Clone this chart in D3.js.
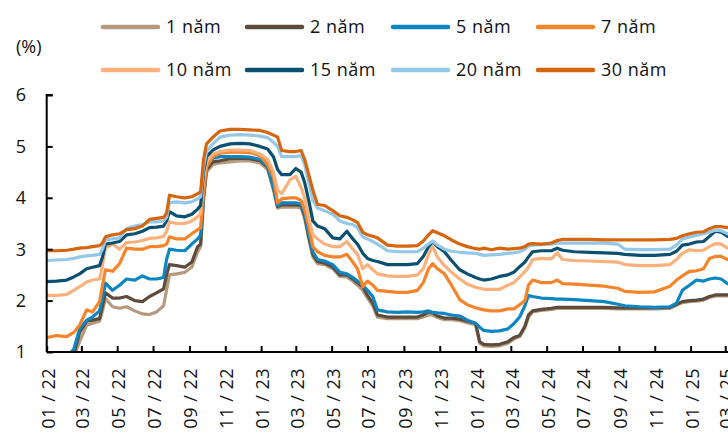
<!DOCTYPE html>
<html>
<head>
<meta charset="utf-8">
<script src="https://cdn.jsdelivr.net/npm/d3@7"></script>
<style>
  html, body { margin: 0; padding: 0; background: #fff; }
  svg { display: block; font-family: "Open Sans", "Noto Sans", sans-serif; }
</style>
</head>
<body>
<svg id="chart" width="728" height="432"></svg>
<script>
// Observation dates (yyyy-mm-dd)
const dates = [
  "2022-01-01","2022-01-18","2022-02-04","2022-02-16","2022-02-26","2022-03-10","2022-03-20","2022-04-01",
  "2022-04-06","2022-04-11","2022-04-23","2022-05-05","2022-05-17","2022-05-31","2022-06-13","2022-06-25",
  "2022-07-07","2022-07-19","2022-07-24","2022-07-29","2022-08-10","2022-08-24","2022-09-05","2022-09-15",
  "2022-09-20","2022-09-25","2022-09-30","2022-10-11","2022-10-23","2022-11-09","2022-11-26","2022-12-13",
  "2022-12-30","2023-01-12","2023-01-22","2023-01-29","2023-02-05","2023-02-19","2023-03-01","2023-03-10",
  "2023-03-16","2023-03-23","2023-03-30","2023-04-07","2023-04-19","2023-05-03","2023-05-15","2023-05-27",
  "2023-06-06","2023-06-14","2023-06-23","2023-07-01","2023-07-10","2023-07-18","2023-08-04","2023-08-21",
  "2023-09-07","2023-09-24","2023-10-04","2023-10-13","2023-10-20","2023-10-28","2023-11-09","2023-11-21",
  "2023-12-05","2023-12-18","2024-01-01","2024-01-08","2024-01-15","2024-01-28","2024-02-11","2024-02-25",
  "2024-03-06","2024-03-16","2024-03-25","2024-03-31","2024-04-07","2024-04-22","2024-05-09","2024-05-19",
  "2024-05-28","2024-06-17","2024-07-13","2024-08-07","2024-08-30","2024-09-11","2024-10-07","2024-11-01",
  "2024-11-27","2024-12-08","2024-12-18","2024-12-30","2025-01-11","2025-01-23","2025-02-02","2025-02-12",
  "2025-02-22","2025-03-05"
];

// Yields (%) by tenor
const y1 = [0.75,0.75,0.78,0.90,1.20,1.52,1.56,1.60,1.80,2.04,1.88,1.85,1.88,1.80,1.74,1.73,1.78,1.90,2.20,2.50,2.52,2.55,2.65,2.95,3.05,3.95,4.50,4.65,4.68,4.70,4.72,4.72,4.68,4.55,4.15,3.80,3.82,3.82,3.82,3.80,3.60,3.20,2.85,2.72,2.70,2.62,2.47,2.46,2.38,2.30,2.20,2.05,1.90,1.68,1.65,1.65,1.65,1.65,1.68,1.72,1.72,1.67,1.63,1.63,1.61,1.57,1.53,1.17,1.12,1.11,1.12,1.17,1.25,1.30,1.47,1.67,1.78,1.81,1.83,1.85,1.85,1.85,1.85,1.85,1.84,1.84,1.84,1.84,1.85,1.91,1.96,1.98,1.99,2.01,2.06,2.09,2.09,2.09];
const y2 = [0.80,0.80,0.82,0.95,1.38,1.60,1.62,1.65,1.90,2.15,2.05,2.05,2.08,2.00,1.98,2.08,2.15,2.23,2.50,2.70,2.68,2.65,2.75,3.05,3.10,4.00,4.55,4.70,4.72,4.76,4.77,4.76,4.72,4.60,4.20,3.83,3.86,3.86,3.86,3.85,3.65,3.25,2.90,2.76,2.73,2.65,2.50,2.50,2.42,2.35,2.27,2.10,1.95,1.72,1.68,1.68,1.68,1.68,1.72,1.78,1.76,1.70,1.66,1.66,1.64,1.60,1.56,1.20,1.15,1.14,1.15,1.20,1.28,1.32,1.50,1.72,1.80,1.83,1.85,1.87,1.87,1.87,1.87,1.87,1.86,1.86,1.86,1.86,1.87,1.93,1.98,2.00,2.01,2.03,2.08,2.11,2.11,2.11];
const y5 = [0.95,0.92,0.90,1.05,1.45,1.62,1.68,1.80,2.05,2.34,2.20,2.30,2.42,2.40,2.48,2.42,2.42,2.45,2.80,3.00,2.98,2.97,3.10,3.20,3.28,4.10,4.62,4.77,4.80,4.80,4.80,4.79,4.75,4.62,4.20,3.85,3.90,3.90,3.90,3.88,3.70,3.30,2.95,2.80,2.77,2.70,2.55,2.52,2.45,2.38,2.30,2.20,2.08,1.82,1.78,1.77,1.78,1.77,1.78,1.80,1.77,1.76,1.75,1.72,1.70,1.62,1.56,1.48,1.42,1.40,1.41,1.45,1.55,1.68,1.90,2.10,2.08,2.05,2.04,2.03,2.03,2.02,2.00,1.98,1.93,1.90,1.88,1.87,1.88,1.95,2.20,2.30,2.40,2.38,2.42,2.44,2.42,2.33];
const y7 = [1.28,1.32,1.30,1.38,1.52,1.82,1.78,1.98,2.30,2.60,2.57,2.72,3.02,3.00,3.00,3.05,3.05,3.07,3.10,3.24,3.20,3.20,3.30,3.38,3.42,4.10,4.60,4.80,4.87,4.89,4.89,4.88,4.82,4.65,4.40,3.90,3.98,4.00,4.00,3.95,3.78,3.45,3.05,2.95,2.88,2.85,2.85,2.90,2.75,2.62,2.27,2.38,2.30,2.20,2.18,2.16,2.16,2.20,2.35,2.62,2.72,2.62,2.52,2.30,2.02,1.92,1.86,1.84,1.82,1.80,1.80,1.84,1.84,1.92,2.00,2.30,2.40,2.35,2.35,2.40,2.33,2.32,2.30,2.28,2.24,2.18,2.16,2.17,2.28,2.40,2.48,2.57,2.58,2.62,2.82,2.86,2.86,2.80];
const y10 = [2.10,2.10,2.12,2.20,2.27,2.36,2.40,2.42,2.70,3.02,3.10,3.00,3.13,3.14,3.17,3.21,3.22,3.25,3.35,3.53,3.50,3.50,3.55,3.63,3.70,4.35,4.70,4.85,4.90,4.93,4.93,4.92,4.85,4.75,4.50,4.15,4.08,4.35,4.42,4.20,4.00,3.60,3.28,3.20,3.10,3.05,3.05,3.15,3.00,2.90,2.62,2.70,2.60,2.52,2.48,2.47,2.47,2.50,2.62,2.90,3.05,2.85,2.68,2.55,2.42,2.32,2.26,2.24,2.22,2.22,2.22,2.30,2.35,2.46,2.56,2.65,2.80,2.82,2.81,2.93,2.80,2.78,2.77,2.76,2.75,2.70,2.68,2.68,2.70,2.80,2.92,2.99,2.97,2.98,3.05,3.11,3.10,3.02];
const y15 = [2.37,2.38,2.40,2.46,2.52,2.62,2.65,2.68,2.85,3.10,3.12,3.15,3.28,3.30,3.35,3.42,3.43,3.45,3.55,3.73,3.65,3.63,3.68,3.78,3.85,4.50,4.80,4.93,5.00,5.05,5.06,5.05,5.00,4.95,4.80,4.55,4.45,4.45,4.57,4.50,4.30,3.95,3.55,3.45,3.40,3.22,3.20,3.35,3.20,3.10,2.92,2.82,2.78,2.76,2.70,2.70,2.70,2.72,2.86,3.05,3.15,3.05,2.95,2.78,2.60,2.52,2.45,2.42,2.40,2.42,2.47,2.50,2.55,2.66,2.75,2.85,2.95,2.97,2.97,3.02,2.98,2.95,2.94,2.93,2.92,2.90,2.88,2.88,2.90,2.96,3.08,3.10,3.14,3.15,3.25,3.35,3.33,3.25];
const y20 = [2.78,2.79,2.80,2.82,2.85,2.87,2.88,2.90,3.00,3.18,3.20,3.22,3.40,3.45,3.48,3.53,3.53,3.55,3.62,3.90,3.92,3.90,3.92,3.98,4.02,4.60,4.90,5.05,5.18,5.22,5.23,5.22,5.20,5.17,5.08,5.00,4.80,4.80,4.80,4.82,4.65,4.30,3.95,3.80,3.75,3.68,3.55,3.50,3.48,3.42,3.24,3.20,3.15,3.10,2.97,2.95,2.95,2.95,3.02,3.10,3.16,3.08,3.00,2.96,2.94,2.93,2.92,2.90,2.88,2.89,2.90,2.92,2.93,2.95,3.00,3.06,3.08,3.09,3.10,3.12,3.12,3.12,3.12,3.12,3.10,3.00,2.99,2.99,3.00,3.08,3.20,3.24,3.27,3.30,3.33,3.37,3.36,3.30];
const y30 = [2.97,2.97,2.98,3.00,3.02,3.03,3.05,3.07,3.12,3.24,3.28,3.30,3.38,3.40,3.45,3.58,3.60,3.62,3.70,4.05,4.02,4.00,4.02,4.08,4.12,4.75,5.05,5.18,5.30,5.33,5.33,5.32,5.31,5.27,5.22,5.18,4.92,4.90,4.90,4.92,4.75,4.45,4.15,3.87,3.85,3.75,3.65,3.62,3.57,3.52,3.33,3.28,3.25,3.22,3.08,3.06,3.06,3.07,3.16,3.28,3.36,3.32,3.26,3.18,3.10,3.05,3.01,3.00,3.02,2.99,3.02,3.00,3.01,3.02,3.05,3.10,3.11,3.10,3.12,3.17,3.19,3.19,3.19,3.18,3.18,3.18,3.18,3.18,3.19,3.21,3.26,3.30,3.33,3.34,3.40,3.44,3.44,3.42];

const seriesNames = ["1 năm","2 năm","5 năm","7 năm","10 năm","15 năm","20 năm","30 năm"];
const seriesValues = [y1, y2, y5, y7, y10, y15, y20, y30];
const seriesColors = ["#b59a7d","#5e4b3b","#0b86c3","#f5842a","#fcb07c","#0b5071","#93c8e8","#d6650f"];

const yTicks = [1, 2, 3, 4, 5, 6];

const FONT_SIZE = 18;
const LETTER_SPACING = "0.5px";

const parse = d3.utcParse("%Y-%m-%d");
const dateObjs = dates.map(parse);

const svg = d3.select("#chart");

const plot = { left: 46.7, right: 728.2, top: 95, bottom: 352 };

const x = d3.scaleUtc()
  .domain([parse("2022-01-01"), parse("2025-03-06")])
  .range([plot.left, plot.right]);

const y = d3.scaleLinear()
  .domain([1, 6])
  .range([plot.bottom, plot.top]);

// Clip lines to the plotting area
svg.append("defs").append("clipPath").attr("id", "plot-clip")
  .append("rect")
  .attr("x", plot.left).attr("y", plot.top - 2)
  .attr("width", plot.right - plot.left + 2)
  .attr("height", plot.bottom - plot.top + 2);

const line = d3.line()
  .x(d => x(d[0]))
  .y(d => y(d[1]));

const linesG = svg.append("g").attr("clip-path", "url(#plot-clip)");
seriesValues.forEach((vals, i) => {
  linesG.append("path")
    .datum(vals.map((v, j) => [dateObjs[j], v]))
    .attr("fill", "none")
    .attr("stroke", seriesColors[i])
    .attr("stroke-width", 3.2)
    .attr("stroke-linejoin", "round")
    .attr("stroke-linecap", "round")
    .attr("d", line);
});

// Y axis: ticks point inward
const yAxis = d3.axisRight(y).tickValues(yTicks).tickSize(6).tickFormat("");
const yG = svg.append("g").attr("transform", `translate(${plot.left},0)`).call(yAxis);
yG.select(".domain").attr("stroke", "#000").attr("stroke-width", 2)
  .attr("d", `M6,${plot.top}H0V${plot.bottom}`);
yG.selectAll(".tick line").attr("stroke", "#000").attr("stroke-width", 2);

svg.append("g").selectAll("text")
  .data(yTicks)
  .join("text")
  .attr("x", 26)
  .attr("y", d => y(d))
  .attr("dy", "0.36em")
  .attr("text-anchor", "end")
  .attr("font-size", FONT_SIZE)
  .attr("fill", "#111")
  .text(d => d);

// X axis: bi-monthly ticks pointing up, labels rotated
const xTickDates = d3.utcMonth.every(2).range(parse("2022-01-01"), parse("2025-03-02"));
const fmt = d3.utcFormat("%m / %y");
const xAxis = d3.axisTop(x).tickValues(xTickDates).tickSize(6).tickFormat("");
const xG = svg.append("g").attr("transform", `translate(0,${plot.bottom})`).call(xAxis);
xG.select(".domain").attr("stroke", "#000").attr("stroke-width", 2)
  .attr("d", `M${plot.left},0H${plot.right}`);
xG.selectAll(".tick line").attr("stroke", "#000").attr("stroke-width", 2);

svg.append("g").selectAll("text")
  .data(xTickDates)
  .join("text")
  .attr("transform", d => `translate(${x(d) + 1.5},368) rotate(-90)`)
  .attr("dy", "0.36em")
  .attr("text-anchor", "end")
  .attr("font-size", FONT_SIZE)
  .attr("letter-spacing", LETTER_SPACING)
  .attr("fill", "#111")
  .text(d => fmt(d));

// Unit label
svg.append("text")
  .attr("x", 16).attr("y", 47).attr("dy", "0.36em")
  .attr("font-size", FONT_SIZE).attr("fill", "#111")
  .text("(%)");

// Legend in two rows of four
const legendX = [103, 247, 393, 538];
const legendY = [27, 70];
const legend = svg.append("g");
seriesNames.forEach((name, i) => {
  const lx = legendX[i % 4];
  const ly = legendY[Math.floor(i / 4)];
  legend.append("line")
    .attr("x1", lx).attr("x2", lx + 55)
    .attr("y1", ly).attr("y2", ly)
    .attr("stroke", seriesColors[i])
    .attr("stroke-width", 4.5)
    .attr("stroke-linecap", "round");
  legend.append("text")
    .attr("x", lx + 63).attr("y", ly).attr("dy", "0.36em")
    .attr("font-size", FONT_SIZE)
    .attr("letter-spacing", LETTER_SPACING)
    .attr("fill", "#111")
    .text(name);
});
</script>
</body>
</html>
